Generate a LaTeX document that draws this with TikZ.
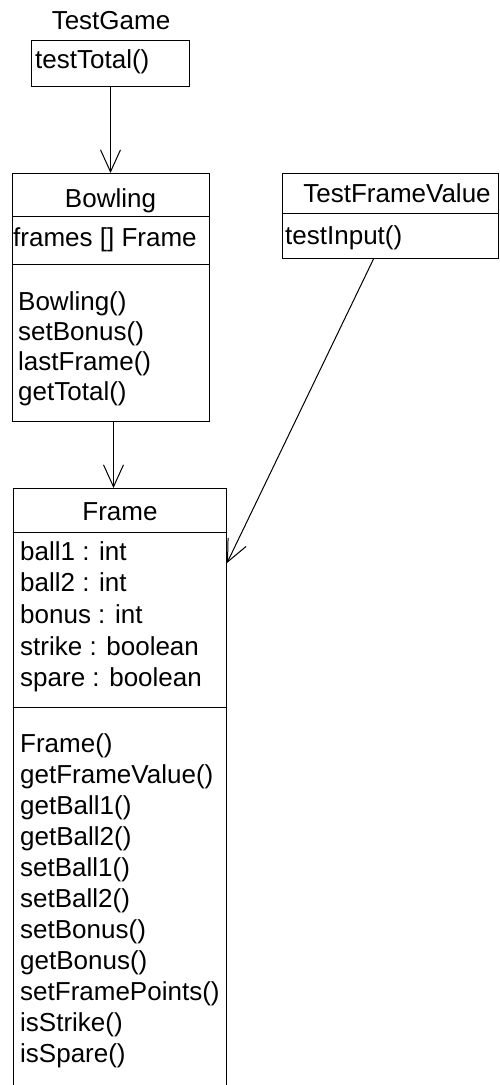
\documentclass[tikz,border=0pt]{standalone}
\usepackage{fontspec}
\setmainfont{Liberation Sans}
\usetikzlibrary{arrows.meta}
\newcommand{\umlfont}{\fontsize{26}{31}\selectfont}

\begin{document}
\begin{tikzpicture}[x=1pt, y=-1pt,
    classbox/.style={rectangle, draw=black, line width=1pt, anchor=north west, inner sep=0pt},
    cname/.style={anchor=base, inner sep=0pt, font=\umlfont},
    member/.style={anchor=base west, inner sep=0pt, font=\umlfont},
    assoc/.style={-{Straight Barb[length=22pt, width=20pt]}, line width=1pt}
  ]
  \useasboundingbox (0,0) rectangle (499,1085);
  % TestGame
  \node[cname] (gameN) at (111,29) {TestGame};
  \node[classbox, minimum width=158pt, minimum height=46pt] (gameM) at (31,40) {};
  \node[member] (gm0) at (35,68) {testTotal()};
  % Bowling
  \node[classbox, minimum width=197pt, minimum height=43pt] (bowlT) at (12,173) {};
  \node[classbox, minimum width=197pt, minimum height=48pt] (bowlA) at (12,216) {};
  \node[classbox, minimum width=197pt, minimum height=157pt] (bowlM) at (12,264) {};
  \node[cname] (bowlN) at (110.5,207) {Bowling};
  \node[member] (ba0) at (13,246) {frames [] Frame};
  \foreach \m [count=\i from 0] in {Bowling(), setBonus(), lastFrame(), getTotal()}
    \node[member] (bm\i) at (18,310+30*\i) {\m};
  % TestFrameValue
  \node[classbox, minimum width=216pt, minimum height=40pt] (tfvT) at (282,173) {};
  \node[classbox, minimum width=216pt, minimum height=45pt] (tfvM) at (282,213) {};
  \node[cname] (tfvN) at (397,202) {TestFrameValue};
  \node[member] (tm0) at (285,244) {testInput()};
  % Frame
  \node[classbox, minimum width=213pt, minimum height=44pt] (frameT) at (13,488) {};
  \node[classbox, minimum width=213pt, minimum height=175pt] (frameA) at (13,532) {};
  \node[classbox, minimum width=213pt, minimum height=420pt] (frameM) at (13,707) {};
  \node[cname] (frameN) at (120,520) {Frame};
  \foreach \a [count=\i from 0] in {ball1 : int, ball2 : int, bonus : int, strike : boolean, spare : boolean}
    \node[member] (fa\i) at (20,560+31.7*\i) {\a};
  \foreach \m [count=\i from 0] in {Frame(), getFrameValue(), getBall1(), getBall2(), setBall1(), setBall2(),
      setBonus(), getBonus(), setFramePoints(), isStrike(), isSpare()}
    \node[member] (fm\i) at (20,752+31*\i) {\m};
  % Associations
  \draw[assoc] (gameM.south) -- (gameM.south |- bowlT.north);
  \draw[assoc] ([xshift=2.5pt]bowlM.south) -- ([xshift=2.5pt]bowlM.south |- frameT.north);
  \draw[assoc] ([xshift=-17pt]tfvM.south) -- ([yshift=-31pt]frameA.north east);
\end{tikzpicture}
\end{document}
